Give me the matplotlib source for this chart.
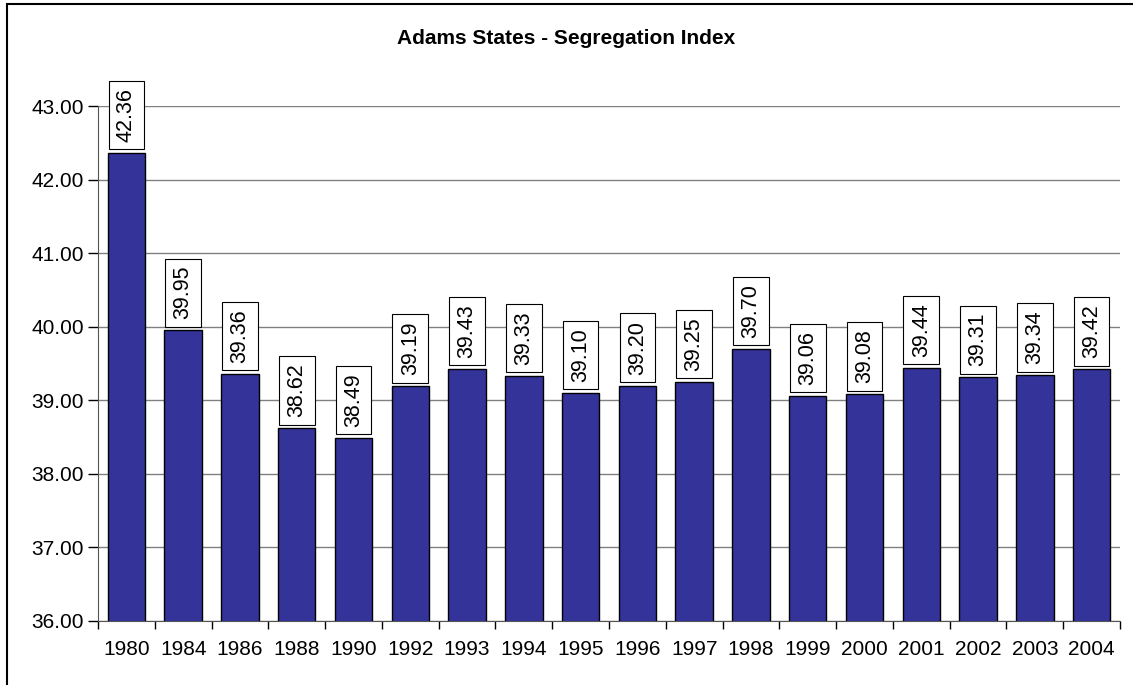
import matplotlib
matplotlib.use("Agg")
import matplotlib.pyplot as plt
from matplotlib.patches import Rectangle
import numpy as np

years = ["1980", "1984", "1986", "1988", "1990", "1992", "1993", "1994", "1995",
         "1996", "1997", "1998", "1999", "2000", "2001", "2002", "2003", "2004"]
values = [42.36, 39.95, 39.36, 38.62, 38.49, 39.19, 39.43, 39.33, 39.10,
          39.20, 39.25, 39.70, 39.06, 39.08, 39.44, 39.31, 39.34, 39.42]
yticks = [36, 37, 38, 39, 40, 41, 42, 43]

plt.rcParams['font.family'] = ['Liberation Sans', 'DejaVu Sans']

W, H = 1133, 685
fig = plt.figure(figsize=(W / 100, H / 100), dpi=100)
ax = fig.add_axes([98 / W, 1 - 621 / H, (1120 - 98) / W, (621 - 106) / H])

x = np.arange(len(years))
ax.bar(x, values, width=0.66, color='#333399', edgecolor='black', linewidth=1, zorder=3)

ax.set_ylim(36, 43)
ax.set_xlim(-0.5, len(years) - 0.5)
ax.set_yticks(yticks)
ax.set_yticklabels([f"{v:.2f}" for v in yticks], fontsize=15)
ax.set_xticks(x)
ax.set_xticklabels(years, fontsize=15)
ax.tick_params(axis='x', length=0, pad=14)
ax.set_xticks(np.arange(-0.5, len(years), 1), minor=True)
ax.tick_params(axis='x', which='minor', length=6, width=1, color='black', direction='out')
ax.tick_params(axis='y', length=7, width=1, direction='out', pad=3)
ax.yaxis.grid(True, color='#808080', linewidth=1, zorder=0)
ax.set_axisbelow(True)
for s in ['top', 'right']:
    ax.spines[s].set_visible(False)
ax.spines['left'].set_color('#555555')
ax.spines['bottom'].set_color('#555555')

for xi, v in zip(x, values):
    ax.text(xi, v + 0.15, f"{v:.2f}", rotation=90, ha='center', va='bottom',
            fontsize=15.5, zorder=5,
            bbox=dict(boxstyle='square,pad=0.34', facecolor='white', edgecolor='black', linewidth=0.8))

fig.text(0.5, 1 - 38 / H, "Adams States - Segregation Index", ha='center', va='center',
         fontsize=15, fontweight='bold')

# figure border (left and top visible)
fig.patches.append(Rectangle((7 / W, -0.1), 1.2, 1 - 4 / H + 0.1, transform=fig.transFigure,
                             fill=False, edgecolor='black', linewidth=1.5))

fig.savefig("out.png", dpi=100)
